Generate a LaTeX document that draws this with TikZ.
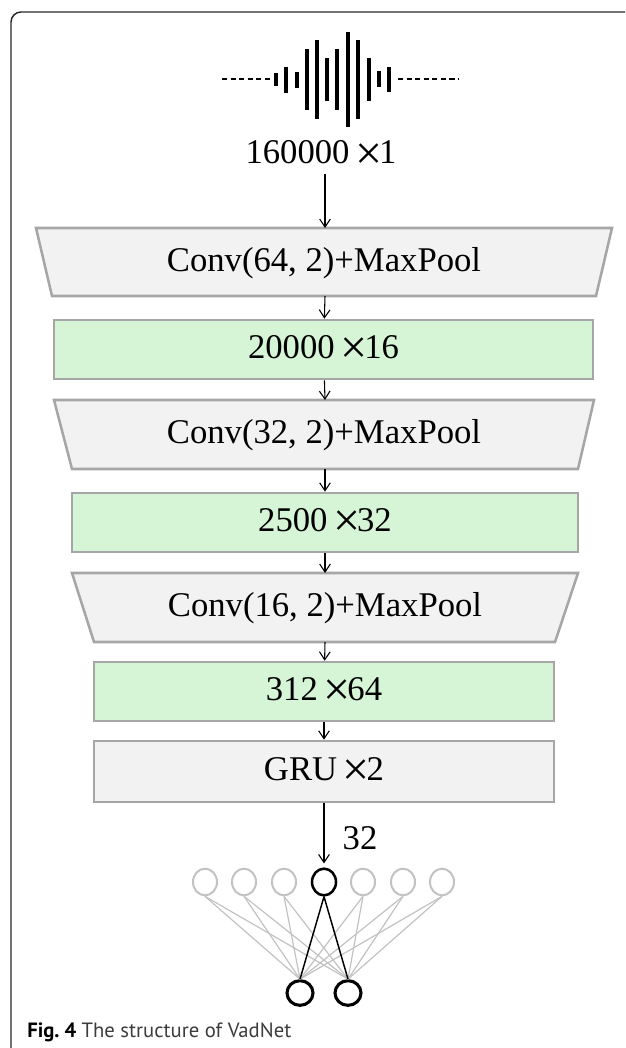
\documentclass[tikz,border=0pt]{standalone}
\usepackage{fontspec}
\setmainfont{Liberation Serif}
\newfontfamily\capfont{PT Sans}
\usetikzlibrary{arrows.meta, shapes.geometric, positioning}

\definecolor{layerGray}{HTML}{F2F2F2}
\definecolor{layerGreen}{HTML}{D6F5D6}
\definecolor{edgeGray}{HTML}{A6A6A6}
\definecolor{unitGray}{HTML}{C2C2C2}
\definecolor{frameDark}{HTML}{262626}
\definecolor{capGray}{HTML}{3C3C3C}

% large multiplication sign, set tight against the next digit
\newcommand{\dimx}{\raisebox{-4pt}{\fontsize{36}{36}\selectfont ×}\kern-2.5pt}

\tikzset{
	flow/.style = {-{Straight Barb[length=6pt, width=8pt]}, line width=0.8pt},
	convlayer/.style = {draw=edgeGray, fill=layerGray, line width=1.9pt},
	featbox/.style = {draw=edgeGray, fill=layerGreen, line width=1.9pt, minimum height=44.25pt},
	grubox/.style = {draw=edgeGray, fill=layerGray, line width=1.9pt, minimum height=45.75pt},
	dimtext/.style = {font=\fontsize{26}{30}\selectfont},
	unit/.style = {ellipse, draw=unitGray, line width=1.5pt, minimum width=18pt, minimum height=20pt, inner sep=0pt},
	unitOn/.style = {unit, draw=black, line width=1.9pt},
	outUnit/.style = {unit, draw=black, line width=2.3pt, minimum width=19.5pt, minimum height=18.5pt},
	wire/.style = {draw=unitGray, line width=0.9pt},
	wireOn/.style = {draw=black, line width=1.1pt},
}

\begin{document}
\begin{tikzpicture}[x=0.75pt, y=0.75pt]
		\useasboundingbox (0,0) rectangle (625,-1048);

		% frame of the figure panel
		\draw [frameDark, line width=1.1pt, rounded corners=7.5pt] (625,-12) -| (11,-1050);

		% waveform
		\draw [line width=1.9pt, dash pattern=on 4pt off 2.4pt] (222,-79) -- (272,-79);
		\draw [line width=1.9pt, dash pattern=on 4pt off 2.4pt] (398,-79) -- (458,-79);
		\foreach \bx/\btop/\bbot in {276/73/86, 286/67/93, 297/72/88, 307/49/110, 317/40/119, 327/58/101,
				337/49/110, 348/32/127, 358/40/119, 369/58/101, 379/71/87, 389/67/92}
			\draw [line width=3.4pt] (\bx,-\btop) -- (\bx,-\bbot);

		\node [dimtext] (inDim) at (321,-155) {160000\,\dimx 1};

		% conv block 1
		\draw [convlayer] (36,-228) -- (612,-228) -- (596,-296) -- (52,-296) -- cycle;
		\coordinate (conv1Top) at (325,-228);
		\coordinate (conv1Bot) at (325,-296);
		\node [dimtext] (conv1) at (324,-263) {Conv(64, 2)+MaxPool};
		\draw [flow] (inDim.south -| conv1Top) -- (conv1Top);

		\node [featbox, minimum width=404.25pt] (feat1) at (323.5,-349.5) {};
		\node [dimtext] (feat1Txt) at (feat1) {20000\,\dimx 16};
		\draw [flow] (conv1Bot) -- (feat1);

		% conv block 2
		\draw [convlayer] (54,-400) -- (594,-400) -- (578,-469) -- (72,-469) -- cycle;
		\coordinate (conv2Top) at (325,-400);
		\coordinate (conv2Bot) at (325,-469);
		\node [dimtext] (conv2) at (324,-435) {Conv(32, 2)+MaxPool};
		\draw [flow] (feat1) -- (conv2Top);

		\node [featbox, minimum width=379.5pt] (feat2) at (325,-522.5) {};
		\node [dimtext] (feat2Txt) at (feat2) {2500\,\dimx 32};
		\draw [flow] (conv2Bot) -- (feat2);

		% conv block 3
		\draw [convlayer] (72,-573) -- (578,-573) -- (555,-642) -- (94,-642) -- cycle;
		\coordinate (conv3Top) at (325,-573);
		\coordinate (conv3Bot) at (325,-642);
		\node [dimtext] (conv3) at (325,-608) {Conv(16, 2)+MaxPool};
		\draw [flow] (feat2) -- (conv3Top);

		\node [featbox, minimum width=345pt] (feat3) at (324,-691.5) {};
		\node [dimtext] (feat3Txt) at (feat3) {312\,\dimx 64};
		\draw [flow] (conv3Bot) -- (feat3);

		% recurrent part
		\node [grubox, minimum width=345pt] (gru) at (324,-771.5) {};
		\node [dimtext] (gruTxt) at (gru) {GRU\,\dimx 2};
		\draw [flow] (feat3) -- (gru);

		% dense output
		\foreach \k/\ux in {1/205, 2/244, 3/284, 5/363, 6/403, 7/442}
			\node [unit] (n\k) at (\ux,-882) {};
		\node [unitOn] (n4) at (324,-882) {};
		\node [outUnit] (o1) at (300,-993) {};
		\node [outUnit] (o2) at (348,-993) {};

		\foreach \k in {1,2,3,5,6,7}
			\foreach \j in {1,2}
				\draw [wire] (n\k.south) -- (o\j.north);
		\foreach \j in {1,2}
			\draw [wireOn] (n4.south) -- (o\j.north);

		\draw [flow, shorten >=3pt] (gru) -- (n4);
		\node [dimtext] (gruOut) at (360,-838) {32};

		\node [anchor=base west, inner sep=0pt] (caption) at (27,-1037)
			{\capfont\fontsize{15.5}{18}\selectfont\bfseries Fig.~4 \mdseries\color{capGray}The structure of VadNet};
	\end{tikzpicture}
\end{document}
